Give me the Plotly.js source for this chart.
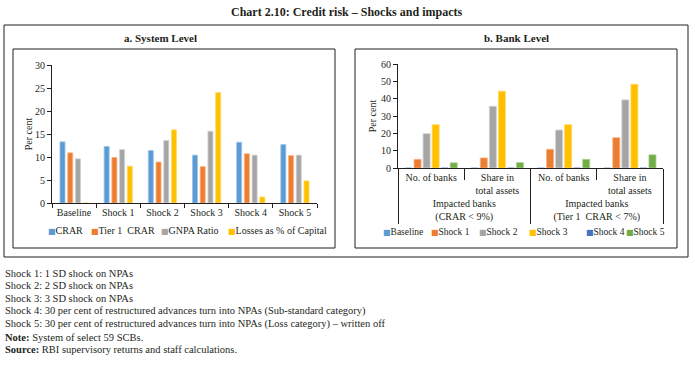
<!DOCTYPE html>
<html>
<head>
<meta charset="utf-8">
<script src="https://cdn.plot.ly/plotly-3.0.1.min.js"></script>
<style>
html,body{margin:0;padding:0;background:#fff;}
#chart{width:695px;height:365px;}
</style>
</head>
<body>
<div id="chart"></div>
<script>
// ---- Panel a: System level ----
const sysCategories = ['Baseline', 'Shock 1', 'Shock 2', 'Shock 3', 'Shock 4', 'Shock 5'];
const sysCRAR   = [13.3, 12.3, 11.4, 10.4, 13.2, 12.7];
const sysTier1  = [10.9, 9.9, 8.9, 7.9, 10.7, 10.3];
const sysGNPA   = [9.6, 11.6, 13.6, 15.6, 10.4, 10.4];
const sysLosses = [0, 8.0, 15.9, 24.0, 1.3, 4.8];
const sysSeriesNames = ['CRAR', 'Tier 1\u00a0 CRAR', 'GNPA Ratio', 'Losses as % of Capital'];

// ---- Panel b: Bank level ----
const bankGroups = ['Impacted banks<br>(CRAR &lt; 9%)', 'Impacted banks<br>(CRAR &lt; 9%)',
                    'Impacted banks<br>(Tier 1\u00a0 CRAR &lt; 7%)', 'Impacted banks<br>(Tier 1\u00a0 CRAR &lt; 7%)'];
const bankMeasures = ['No. of banks', 'Share in<br>total assets', 'No. of banks', 'Share in<br>total assets'];
const bankBaseline = [0, 0, 0, 0];
const bankShock1   = [5.0, 5.8, 10.8, 17.5];
const bankShock2   = [19.8, 35.6, 21.9, 39.3];
const bankShock3   = [25.0, 44.3, 25.0, 48.3];
const bankShock4   = [0, 0, 0, 0];
const bankShock5   = [3.0, 3.1, 5.0, 7.6];
const bankSeriesNames = ['Baseline', 'Shock 1', 'Shock 2', 'Shock 3', 'Shock 4', 'Shock 5'];

// ---- Texts ----
const mainTitle = 'Chart 2.10: Credit risk \u2013 Shocks and impacts';
const panelTitles = ['a. System Level', 'b. Bank Level'];
const yTitle = 'Per cent';
const noteLines = [
  'Shock 1: 1 SD shock on NPAs',
  'Shock 2: 2 SD shock on NPAs',
  'Shock 3: 3 SD shock on NPAs',
  'Shock 4: 30 per cent of restructured advances turn into NPAs (Sub-standard category)',
  'Shock 5: 30 per cent of restructured advances turn into NPAs (Loss category) \u2013 written off',
  '<b>Note:</b> System of select 59 SCBs.',
  '<b>Source:</b> RBI supervisory returns and staff calculations.'
];

// ---- Styles ----
const W = 695, H = 365;
const FONT = '"Liberation Serif", "Times New Roman", serif';
const TXT = '#231f20';
const LINE = '#231f20';
const sysColors = ['#5B9BD5', '#ED7D31', '#A5A5A5', '#FFC000'];
const sysEdge   = ['#9dc3e6', '#f4b183', '#d0d0d0', '#ffd966'];
const bankColors = ['#5B9BD5', '#ED7D31', '#A5A5A5', '#FFC000', '#4472C4', '#70AD47'];
const bankEdge   = ['#9dc3e6', '#f4b183', '#d0d0d0', '#ffd966', '#8faadc', '#a9d18e'];

const px = x => x / W;
const py = y => 1 - y / H;

const traces = [];
const sysValues = [sysCRAR, sysTier1, sysGNPA, sysLosses];
sysValues.forEach((vals, i) => {
  traces.push({
    type: 'bar', name: sysSeriesNames[i], x: sysCategories, y: vals,
    xaxis: 'x', yaxis: 'y', showlegend: false,
    marker: {color: sysColors[i], line: {color: sysEdge[i], width: 0.8}},
    hoverinfo: 'x+y+name'
  });
});

const bankValues = [bankBaseline, bankShock1, bankShock2, bankShock3, bankShock4, bankShock5];
const slot = 9 / 66, bw = 7 / 66;
bankValues.forEach((vals, i) => {
  traces.push({
    type: 'bar', name: bankSeriesNames[i], x: [bankGroups, bankMeasures], y: vals,
    xaxis: 'x2', yaxis: 'y2', showlegend: false,
    width: bw, offset: (i - 2.5) * slot - bw / 2,
    marker: {color: bankColors[i], line: {color: bankEdge[i], width: 0.8}},
    hoverinfo: 'y+name'
  });
});

const annotations = [];
annotations.push({text: '<b>' + mainTitle + '</b>', x: px(346), y: py(12), xref: 'paper', yref: 'paper',
  xanchor: 'center', yanchor: 'middle', showarrow: false, font: {size: 12, family: FONT, color: TXT}});
annotations.push({text: '<b>' + panelTitles[0] + '</b>', x: px(160), y: py(38), xref: 'paper', yref: 'paper',
  xanchor: 'center', yanchor: 'middle', showarrow: false, font: {size: 11, family: FONT, color: TXT}});
annotations.push({text: '<b>' + panelTitles[1] + '</b>', x: px(516), y: py(38), xref: 'paper', yref: 'paper',
  xanchor: 'center', yanchor: 'middle', showarrow: false, font: {size: 11, family: FONT, color: TXT}});

noteLines.forEach((t, i) => {
  annotations.push({text: t, x: px(3), y: py(273 + i * 12.8), xref: 'paper', yref: 'paper',
    xanchor: 'left', yanchor: 'middle', showarrow: false, font: {size: 10.5, family: FONT, color: TXT}});
});

// legend rows (as text)
const swatch = c => '<span style="color:' + c + ';font-family:DejaVu Sans;font-size:8px">\u25A0</span>';
const sysLegendX = [47, 90, 160, 227];
sysSeriesNames.forEach((n, i) => {
  annotations.push({text: swatch(sysColors[i]) + n,
    x: px(sysLegendX[i]), y: py(230), xref: 'paper', yref: 'paper', xanchor: 'left', yanchor: 'middle',
    showarrow: false, font: {size: 10, family: FONT, color: TXT}, borderpad: 0});
});
const bankLegendX = [382, 430, 478, 528, 585, 625];
bankSeriesNames.forEach((n, i) => {
  annotations.push({text: swatch(bankColors[i]) + n,
    x: px(bankLegendX[i]), y: py(232), xref: 'paper', yref: 'paper', xanchor: 'left', yanchor: 'middle',
    showarrow: false, font: {size: 9.5, family: FONT, color: TXT}, borderpad: 0});
});

const box = (x0, y0, x1, y1) => ({type: 'rect', xref: 'paper', yref: 'paper',
  x0: px(x0), x1: px(x1), y0: py(y1), y1: py(y0), line: {color: LINE, width: 1}});

const axisFont = {size: 10, family: FONT, color: TXT};

const layout = {
  width: W, height: H,
  margin: {l: 0, r: 0, t: 0, b: 0},
  paper_bgcolor: '#fff', plot_bgcolor: 'rgba(0,0,0,0)',
  font: {family: FONT, color: TXT, size: 10},
  barmode: 'group', bargap: 0.3, bargroupgap: 0.35,
  showlegend: false,
  xaxis: {domain: [px(52), px(317)], anchor: 'y', type: 'category',
    showline: true, linecolor: LINE, linewidth: 1, ticks: 'outside', ticklen: 4, tickcolor: LINE,
    tickson: 'boundaries', showgrid: false, zeroline: false, tickfont: axisFont, fixedrange: true},
  yaxis: {domain: [py(203), py(65)], anchor: 'x', range: [0, 30], dtick: 5,
    showline: true, linecolor: LINE, linewidth: 1, ticks: 'outside', ticklen: 4, tickcolor: LINE,
    showgrid: false, zeroline: false, tickfont: axisFont, fixedrange: true,
    title: {text: yTitle, font: axisFont, standoff: 0}},
  xaxis2: {domain: [px(398), px(663)], anchor: 'y2', type: 'multicategory',
    showline: true, linecolor: LINE, linewidth: 1, ticks: 'outside', ticklen: 11, tickcolor: LINE,
    tickson: 'boundaries', showdividers: true, dividercolor: LINE, dividerwidth: 1,
    showgrid: false, zeroline: false, tickfont: axisFont, fixedrange: true},
  yaxis2: {domain: [py(168), py(64)], anchor: 'x2', range: [0, 60], dtick: 10,
    showline: true, linecolor: LINE, linewidth: 1, ticks: 'outside', ticklen: 4, tickcolor: LINE,
    showgrid: false, zeroline: false, tickfont: axisFont, fixedrange: true,
    title: {text: yTitle, font: axisFont, standoff: 2}},
  shapes: [box(4, 25, 688, 257), box(13, 49, 335, 248), box(355, 49, 677, 248)],
  annotations: annotations
};

Plotly.newPlot('chart', traces, layout, {displayModeBar: false, staticPlot: true});
</script>
</body>
</html>
